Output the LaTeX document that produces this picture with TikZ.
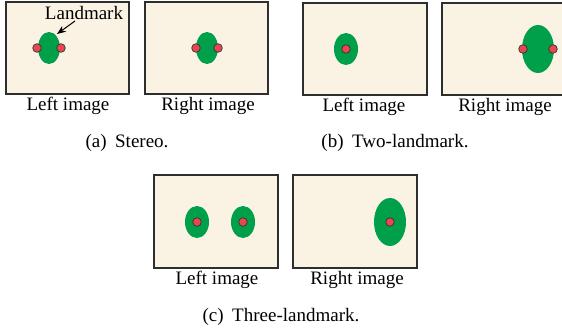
\documentclass[tikz,border=0pt]{standalone}
\usepackage{fontspec}
\setmainfont{Liberation Serif}
\usetikzlibrary{arrows.meta}
\definecolor{paper}{HTML}{FAF3E3}
\definecolor{blob}{HTML}{00A04A}
\definecolor{mark}{HTML}{E8474E}
\definecolor{frame}{HTML}{2E2E2E}
\tikzset{
  imgbox/.style={draw=frame, line width=1.3pt, fill=paper},
  blobshape/.style={fill=blob, draw=none},
  markdot/.style={fill=mark, draw=black!80, line width=0.7pt},
  lbl/.style={font=\fontsize{19}{22}\selectfont, inner sep=0pt},
}
\begin{document}
\begin{tikzpicture}[x=1pt, y=-1pt]
\useasboundingbox (0,0) rectangle (562,334);
\clip (0,0) rectangle (562,334);

% (a) Stereo
\draw[imgbox] (6,2) rectangle (129,94);
\fill[blobshape] (49,48) ellipse [x radius=11, y radius=16];
\draw[markdot] (37,48) circle [radius=4.3];
\draw[markdot] (61,48) circle [radius=4.3];
\coordinate (lmtip) at (57,34);
\node[lbl] (lm) at (84,13) {Landmark};
\coordinate (lmtail) at (75,21);
\draw[-{Stealth[length=9pt,width=7pt]}, line width=1pt] (lmtail) -- (lmtip);
\node[lbl] (al) at (68,106) {Left image};

\draw[imgbox] (145,2) rectangle (268,94);
\fill[blobshape] (207,48) ellipse [x radius=11, y radius=16];
\draw[markdot] (196,48) circle [radius=4.3];
\draw[markdot] (218,48) circle [radius=4.3];
\node[lbl] (ar) at (208,106) {Right image};

\node[lbl] (capa) at (127,143) {(a)\hspace{0.45em}Stereo.};

% (b) Two-landmark
\draw[imgbox] (303,3) rectangle (427,95);
\fill[blobshape] (346,49) ellipse [x radius=12, y radius=16];
\draw[markdot] (346,49) circle [radius=4.3];
\node[lbl] (bl) at (364,107) {Left image};

\draw[imgbox] (442,3) rectangle (568,95);
\fill[blobshape] (538,49) ellipse [x radius=16, y radius=24];
\draw[markdot] (523,49) circle [radius=4.3];
\draw[markdot] (553,49) circle [radius=4.3];
\node[lbl] (br) at (505,107) {Right image};

\node[lbl] (capb) at (395,143) {(b)\hspace{0.45em}Two-landmark.};

% (c) Three-landmark
\draw[imgbox] (154,175) rectangle (278,268);
\fill[blobshape] (197,222) ellipse [x radius=12, y radius=16];
\fill[blobshape] (243,222) ellipse [x radius=12, y radius=16];
\draw[markdot] (197,222) circle [radius=4.3];
\draw[markdot] (243,222) circle [radius=4.3];
\node[lbl] (cl) at (217,280) {Left image};

\draw[imgbox] (293,175) rectangle (417,268);
\fill[blobshape] (390,222) ellipse [x radius=16, y radius=24];
\draw[markdot] (390,222) circle [radius=4.3];
\node[lbl] (cr) at (357,280) {Right image};

\node[lbl] (capc) at (281,317) {(c)\hspace{0.45em}Three-landmark.};
\end{tikzpicture}
\end{document}
